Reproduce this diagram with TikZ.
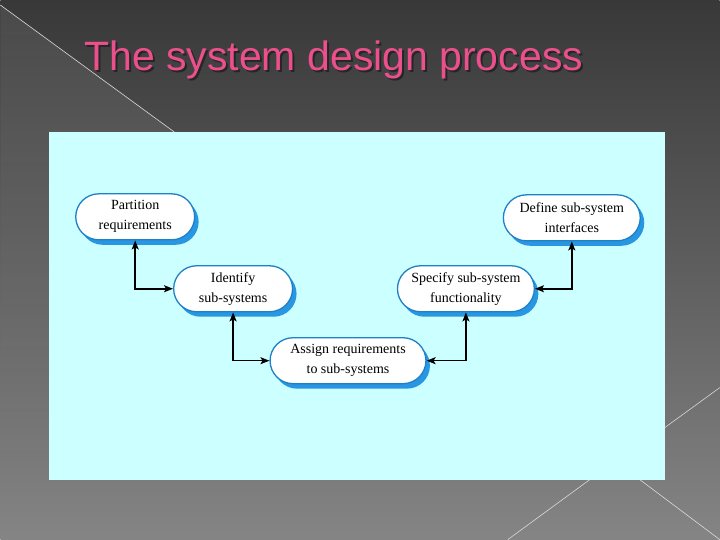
\documentclass[tikz,border=0pt]{standalone}
\usepackage{fontspec}
\setmainfont{Liberation Serif}
\newfontfamily\titlefont{Liberation Sans}
\usetikzlibrary{shapes.misc, arrows.meta, shadows, fadings}

\definecolor{panelcyan}{RGB}{204,255,255}
\definecolor{boxblue}{RGB}{30,128,200}
\definecolor{shadeblue}{RGB}{40,150,225}
\definecolor{titlepink}{RGB}{236,80,140}

\begin{document}
\begin{tikzpicture}[
      x=1pt, y=-1pt,
      stage/.style={rounded rectangle, draw=boxblue, line width=1.3pt, fill=white, minimum height=46pt, inner sep=2pt, align=center,
        font=\fontsize{14}{20}\selectfont,
        drop shadow={shadow xshift=4pt, shadow yshift=-5pt, fill=shadeblue, opacity=1}},
      arrow/.style={{Stealth[length=9pt, width=7pt, inset=2pt]}-{Stealth[length=9pt, width=7pt, inset=2pt]}, line width=1.5pt},
      streak/.style={draw=white!70!gray, line width=0.6pt}
    ]
    % slide background
    \shade[top color=black!78, bottom color=black!48] (0,0) rectangle (720,540);
    \fill[white, opacity=0.09, path fading=south] (0,5) -- (174,132) -- (49,132) -- (49,480) -- (0,480) -- cycle;
    \draw[streak] (0,5) -- (174,132);
    \draw[streak] (665,428) -- (720,388);
    \draw[streak] (640,480) -- (720,540);
    \draw[streak] (590,480) -- (508,540);
    \useasboundingbox (0,0) rectangle (720,540);

    % title
    \node[anchor=base west, inner sep=0, text=black!85, font=\titlefont\fontsize{41}{41}\selectfont] at (86,73) {The system design process};
    \node[anchor=base west, inner sep=0, text=titlepink, font=\titlefont\fontsize{41}{41}\selectfont] (title) at (84,71) {The system design process};

    % diagram panel
    \fill[panelcyan] (49,132) rectangle (665,480);

    \node[stage, minimum width=123pt] (part) at (135,217) {Partition\\requirements};
    \node[stage, minimum width=123pt] (ident) at (233,289) {Identify\\sub-systems};
    \node[stage, minimum width=160pt] (assign) at (348,361) {Assign requirements\\to sub-systems};
    \node[stage, minimum width=141pt] (spec) at (466,289) {Specify sub-system\\functionality};
    \node[stage, minimum width=141pt] (defn) at (572,218) {Define sub-system\\interfaces};

    \draw[arrow] (part.south) |- (ident.west);
    \draw[arrow] (ident.south) |- (assign.west);
    \draw[arrow] (assign.east) -| (spec.south);
    \draw[arrow] (spec.east) -| (defn.south);
  \end{tikzpicture}
\end{document}
